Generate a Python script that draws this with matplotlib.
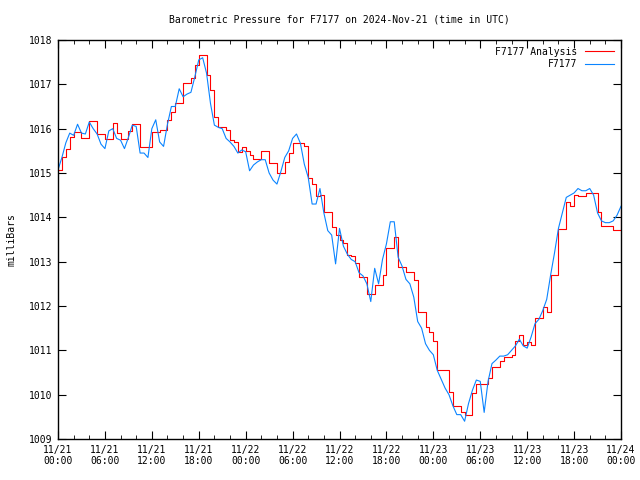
import matplotlib
matplotlib.use("Agg")
import matplotlib.pyplot as plt
import numpy as np

# hours since 2024-11-21 00:00 UTC, half-hour steps
hours = np.arange(0, 72.5, 0.5)

station = [
    1015.07, 1015.35, 1015.68, 1015.90, 1015.85, 1016.10, 1015.90, 1015.88, 1016.15, 1016.00,
    1015.88, 1015.65, 1015.55, 1015.95, 1016.00, 1015.78, 1015.74, 1015.55, 1015.80, 1016.08,
    1016.05, 1015.45, 1015.45, 1015.35, 1016.00, 1016.20, 1015.70, 1015.60, 1016.10, 1016.50,
    1016.50, 1016.90, 1016.72, 1016.78, 1016.82, 1017.17, 1017.55, 1017.60, 1017.25, 1016.57,
    1016.08, 1016.03, 1016.00, 1015.78, 1015.70, 1015.60, 1015.45, 1015.52, 1015.48, 1015.05,
    1015.18, 1015.25, 1015.30, 1015.30, 1015.00, 1014.84, 1014.75, 1015.03, 1015.35, 1015.50,
    1015.78, 1015.88, 1015.67, 1015.20, 1014.90, 1014.30, 1014.30, 1014.65, 1014.10, 1013.70,
    1013.60, 1012.95, 1013.75, 1013.35, 1013.17, 1013.05, 1013.00, 1012.75, 1012.68, 1012.50,
    1012.10, 1012.85, 1012.50, 1013.05, 1013.40, 1013.90, 1013.90, 1013.10, 1012.90, 1012.60,
    1012.50, 1012.20, 1011.65, 1011.50, 1011.15, 1011.00, 1010.90, 1010.55, 1010.35, 1010.15,
    1010.00, 1009.75, 1009.55, 1009.55, 1009.40, 1009.80, 1010.10, 1010.33, 1010.30, 1009.60,
    1010.30, 1010.70, 1010.78, 1010.87, 1010.87, 1010.90, 1011.00, 1011.10, 1011.25, 1011.10,
    1011.05, 1011.30, 1011.60, 1011.70, 1011.90, 1012.15, 1012.70, 1013.20, 1013.75, 1014.10,
    1014.45, 1014.50, 1014.55, 1014.65, 1014.60, 1014.60, 1014.65, 1014.50, 1014.10, 1013.92,
    1013.88, 1013.88, 1013.92, 1014.05, 1014.25,
]

analysis = [
    1015.07, 1015.35, 1015.55, 1015.82, 1015.93, 1015.93, 1015.80, 1015.80, 1016.18, 1016.18,
    1015.88, 1015.88, 1015.76, 1015.76, 1016.12, 1015.90, 1015.76, 1015.76, 1015.95, 1016.10,
    1016.10, 1015.58, 1015.58, 1015.58, 1015.93, 1015.93, 1015.97, 1015.97, 1016.20, 1016.38,
    1016.57, 1016.57, 1017.02, 1017.02, 1017.14, 1017.44, 1017.66, 1017.66, 1017.21, 1016.87,
    1016.26, 1016.03, 1016.03, 1015.98, 1015.74, 1015.70, 1015.48, 1015.58, 1015.50, 1015.40,
    1015.31, 1015.31, 1015.50, 1015.50, 1015.22, 1015.22, 1015.01, 1015.01, 1015.25, 1015.45,
    1015.67, 1015.67, 1015.67, 1015.62, 1014.88, 1014.75, 1014.47, 1014.50, 1014.13, 1014.13,
    1013.79, 1013.60, 1013.50, 1013.41, 1013.15, 1013.12, 1012.96, 1012.66, 1012.66, 1012.27,
    1012.27, 1012.47, 1012.47, 1012.70, 1013.30, 1013.30, 1013.55, 1012.89, 1012.89, 1012.77,
    1012.77, 1012.59, 1011.86, 1011.86, 1011.53, 1011.42, 1011.21, 1010.56, 1010.56, 1010.56,
    1010.05, 1009.74, 1009.74, 1009.62, 1009.54, 1009.54, 1010.03, 1010.25, 1010.25, 1010.25,
    1010.37, 1010.62, 1010.62, 1010.75, 1010.85, 1010.85, 1010.90, 1011.20, 1011.35, 1011.12,
    1011.18, 1011.12, 1011.72, 1011.72, 1011.98, 1011.87, 1012.70, 1012.70, 1013.73, 1013.73,
    1014.34, 1014.25, 1014.50, 1014.48, 1014.48, 1014.54, 1014.54, 1014.54, 1014.11, 1013.80,
    1013.80, 1013.80, 1013.71, 1013.71, 1014.22,
]

tick_hours = np.arange(0, 73, 6)
tick_labels = ["11/21\n00:00", "11/21\n06:00", "11/21\n12:00", "11/21\n18:00",
               "11/22\n00:00", "11/22\n06:00", "11/22\n12:00", "11/22\n18:00",
               "11/23\n00:00", "11/23\n06:00", "11/23\n12:00", "11/23\n18:00",
               "11/24\n00:00"]

plt.rcParams['font.family'] = 'DejaVu Sans Mono'
plt.rcParams['font.size'] = 7

fig = plt.figure(figsize=(6.4, 4.8), dpi=100)
ax = fig.add_axes([58 / 640, 41 / 480, 563 / 640, 399 / 480])

ax.plot(hours, analysis, color="#ff0000", lw=0.8, drawstyle="steps-post", label="F7177 Analysis")
ax.plot(hours, station, color="#0a84ff", lw=0.8, label="F7177")

ax.set_xlim(0, 72)
ax.set_ylim(1009, 1018)
ax.set_xticks(tick_hours)
ax.set_xticklabels(tick_labels)
ax.set_xticks(np.arange(0, 73, 2), minor=True)
ax.set_yticks(np.arange(1009, 1019, 1))
ax.tick_params(which="both", direction="in", top=True, right=True, labelsize=7, pad=4)
ax.tick_params(which="major", length=6)
ax.tick_params(which="minor", length=3)
for s in ax.spines.values():
    s.set_linewidth(1.0)

ax.set_ylabel("milliBars", fontsize=7, labelpad=9)
fig.text(339.5 / 640, 1 - 19 / 480, "Barometric Pressure for F7177 on 2024-Nov-21 (time in UTC)",
         ha="center", va="center", fontsize=7)

ax.legend(loc="upper right", frameon=False, markerfirst=False, fontsize=7,
          handlelength=3.0, handletextpad=0.8, borderaxespad=0.3, labelspacing=0.25)

fig.savefig("out.png", dpi=100)
